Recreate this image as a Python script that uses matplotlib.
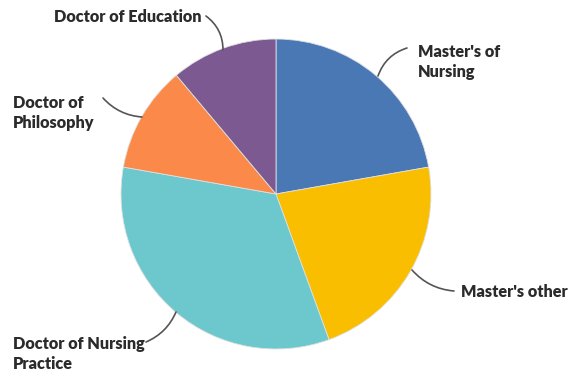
import matplotlib.pyplot as plt

# degree types, share of respondents
labels = ["Master's of\nNursing", "Master's other", "Doctor of Nursing\nPractice",
          "Doctor of\nPhilosophy", "Doctor of Education"]
values = [8, 8, 12, 4, 4]
colors = ["#4A78B5", "#F9BE00", "#6CC8CC", "#FB8A4A", "#7C5A91"]

W, H = 571, 376
fig = plt.figure(figsize=(W / 100, H / 100), dpi=100)
ax = fig.add_axes([0, 0, 1, 1])

cx, cy, r = 276, H - 194, 155
ax.pie(values, colors=colors, startangle=90, counterclock=False,
       center=(cx, cy), radius=r, frame=True,
       wedgeprops=dict(linewidth=0.6, edgecolor='#e0e0e0'))
ax.set_xlim(0, W)
ax.set_ylim(0, H)
ax.axis('off')

# (text x, text y, ha, line start, line end on pie, curvature)
label_pos = [
    (418, 62, 'left', (407, 48), (378, 76), 0.25),
    (461, 292, 'left', (454, 291), (412, 270), -0.2),
    (13, 354, 'left', (146, 342), (176, 312), 0.2),
    (13, 113, 'left', (103, 98), (142, 117), 0.2),
    (54, 17, 'left', (206, 16), (223, 50), -0.25),
]

for lab, (tx, ty, ha, p0, p1, rad) in zip(labels, label_pos):
    ax.text(tx, H - ty, lab, ha=ha, va='center', fontsize=11.7, fontweight='heavy',
            color='#2b2b2b', linespacing=1.35, family=['Lato', 'DejaVu Sans'])
    ax.annotate('', xy=(p1[0], H - p1[1]), xytext=(p0[0], H - p0[1]),
                arrowprops=dict(arrowstyle='-', color='#555555', lw=1.2,
                                connectionstyle=f'arc3,rad={rad}',
                                shrinkA=0, shrinkB=0))

fig.savefig('out.png', dpi=100, facecolor='white')
